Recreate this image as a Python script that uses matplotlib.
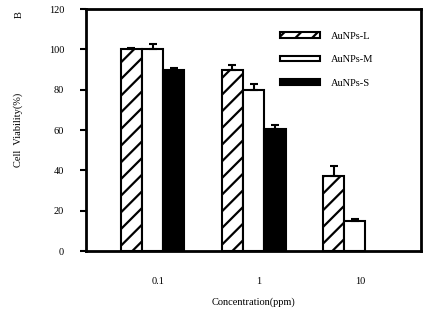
import matplotlib
matplotlib.use("Agg")
import matplotlib.pyplot as plt
import numpy as np

plt.rcParams['font.family'] = ['Liberation Serif', 'DejaVu Serif']
plt.rcParams['hatch.linewidth'] = 1.6

# Données
concentrations = ['0.1', '1', '10']
series = ['AuNPs-L', 'AuNPs-M', 'AuNPs-S']
viab_L = [100, 90, 37]
viab_M = [100, 80, 15]
viab_S = [90, 60.5, 0]
err_L = [0.6, 2.5, 5]
err_M = [2.5, 3, 0.8]
err_S = [1, 2, 0]

fig = plt.figure(figsize=(4.29, 3.13), dpi=100)
ax = fig.add_axes([0.2005, 0.198, 0.7805, 0.773])

x = np.arange(len(concentrations))
w = 0.21
styles = [dict(facecolor='white', hatch='//'),
          dict(facecolor='white'),
          dict(facecolor='black')]
for k, (vals, errs) in enumerate([(viab_L, err_L), (viab_M, err_M), (viab_S, err_S)]):
    pos = x + (k - 1) * w
    vals = np.array(vals)
    errs = np.array(errs)
    keep = vals > 0
    ax.bar(pos[keep], vals[keep], width=w, edgecolor='black', linewidth=1.5,
           label=series[k], zorder=2, **styles[k])
    ax.errorbar(pos[keep], vals[keep], yerr=[np.zeros(keep.sum()), errs[keep]],
                fmt='none', ecolor='black', elinewidth=1.5, capsize=3,
                capthick=1.5, zorder=3)

ax.set_xlim(-0.658, 2.653)
ax.set_ylim(0, 120)
ax.set_yticks(np.arange(0, 121, 20))
ax.set_xticks(x + 0.05)
ax.set_xticklabels(concentrations)
ax.tick_params(axis='x', length=0, pad=19, labelsize=7.5)
ax.tick_params(axis='y', direction='out', length=4.3, width=1.5, pad=11.5, labelsize=7.5)
for s in ax.spines.values():
    s.set_linewidth(2)

ax.set_xlabel('Concentration(ppm)', fontsize=7.5, labelpad=8)
ax.set_ylabel('Cell  Viability(%)', fontsize=7.5)
ax.yaxis.set_label_coords(-0.187, 0.5)
fig.text(0.044, 0.954, 'B', rotation=90, fontsize=7.5, ha='center', va='center')

ax.legend(loc='upper right', bbox_to_anchor=(0.885, 0.945), frameon=False,
          fontsize=7.5, handlelength=3.9, handleheight=0.45, labelspacing=1.4,
          handletextpad=1.0)

fig.savefig('out.png', dpi=100)
